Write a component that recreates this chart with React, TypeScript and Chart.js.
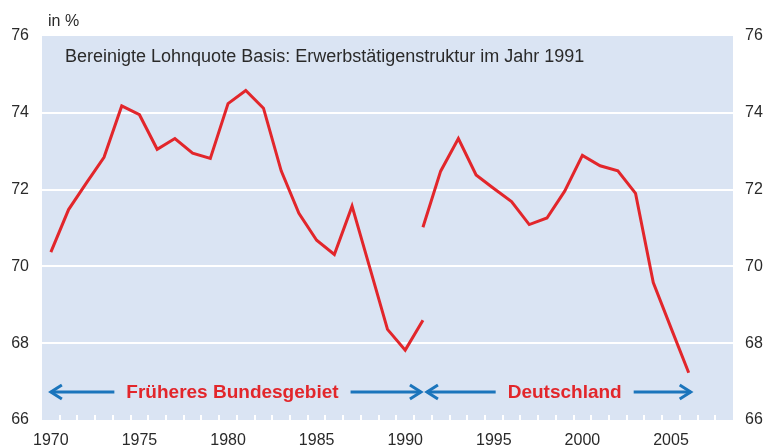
import React, { useEffect, useRef } from "react";
import { Chart, registerables } from "chart.js";
Chart.register(...registerables);

const westYears = [1970, 1971, 1972, 1973, 1974, 1975, 1976, 1977, 1978, 1979, 1980, 1981, 1982, 1983, 1984, 1985, 1986, 1987, 1988, 1989, 1990, 1991];
const westValues = [70.37, 71.48, 72.17, 72.84, 74.18, 73.95, 73.05, 73.33, 72.95, 72.81, 74.24, 74.58, 74.12, 72.49, 71.38, 70.68, 70.31, 71.57, 69.97, 68.36, 67.82, 68.6];
const gerYears = [1991, 1992, 1993, 1994, 1995, 1996, 1997, 1998, 1999, 2000, 2001, 2002, 2003, 2004, 2005, 2006];
const gerValues = [71.02, 72.48, 73.33, 72.38, 72.03, 71.69, 71.09, 71.26, 71.96, 72.89, 72.62, 72.49, 71.9, 69.58, 68.4, 67.23];

const xTickLabels = [1970, 1975, 1980, 1985, 1990, 1995, 2000, 2005];
const yTicks = [66, 68, 70, 72, 74, 76];

const arrowLabels = ["Früheres Bundesgebiet", "Deutschland"];
const arrowFrom = [1970, 1991];
const arrowTo = [1991, 2006];
const arrowLabelAt = [1980.25, 1999];

const titleText = "in %";
const subtitleText = "Bereinigte Lohnquote Basis: Erwerbstätigenstruktur im Jahr 1991";

const FONT = "'Liberation Sans', Arial, Helvetica, sans-serif";
const BG = "#dae4f3";
const RED = "#e2262b";
const BLUE = "#1b75bc";
const TEXT = "#2a2a2a";

const bgPlugin = {
  id: "bgPlugin",
  beforeDraw(chart: any) {
    const { ctx, chartArea } = chart;
    ctx.save();
    ctx.fillStyle = BG;
    ctx.fillRect(chartArea.left, chartArea.top, chartArea.right - chartArea.left, chartArea.bottom - chartArea.top);
    ctx.restore();
  },
};

const overlayPlugin = {
  id: "overlayPlugin",
  afterDatasetsDraw(chart: any) {
    const { ctx, chartArea, scales } = chart;
    const xs = scales.x;
    ctx.save();
    // minor white ticks at year boundaries
    ctx.strokeStyle = "#ffffff";
    ctx.lineWidth = 2;
    for (let y = 1970; y <= 2007; y++) {
      const px = Math.round(xs.getPixelForValue(y + 0.5));
      ctx.beginPath();
      ctx.moveTo(px, chartArea.bottom);
      ctx.lineTo(px, chartArea.bottom - 5);
      ctx.stroke();
    }
    // arrows with labels
    const ay = chartArea.bottom - 28;
    ctx.font = `bold 19px ${FONT}`;
    ctx.textAlign = "center";
    ctx.textBaseline = "middle";
    for (let i = 0; i < arrowLabels.length; i++) {
      const x1 = xs.getPixelForValue(arrowFrom[i]) + (i === 0 ? -1 : 3);
      const x2 = xs.getPixelForValue(arrowTo[i]) + (i === 0 ? -1 : 3);
      const cx = xs.getPixelForValue(arrowLabelAt[i]);
      const w = ctx.measureText(arrowLabels[i]).width;
      const gap = 12;
      ctx.fillStyle = RED;
      ctx.fillText(arrowLabels[i], cx, ay + 1);
      ctx.strokeStyle = BLUE;
      ctx.lineWidth = 3;
      ctx.lineCap = "butt";
      ctx.lineJoin = "miter";
      ctx.beginPath();
      ctx.moveTo(x1 + 1, ay);
      ctx.lineTo(cx - w / 2 - gap, ay);
      ctx.moveTo(cx + w / 2 + gap, ay);
      ctx.lineTo(x2 - 1, ay);
      ctx.stroke();
      ctx.beginPath();
      ctx.moveTo(x1 + 12, ay - 7);
      ctx.lineTo(x1 + 1, ay);
      ctx.lineTo(x1 + 12, ay + 7);
      ctx.moveTo(x2 - 12, ay - 7);
      ctx.lineTo(x2 - 1, ay);
      ctx.lineTo(x2 - 12, ay + 7);
      ctx.stroke();
    }
    ctx.restore();
  },
  afterDraw(chart: any) {
    const { ctx, chartArea } = chart;
    ctx.save();
    ctx.fillStyle = TEXT;
    ctx.textAlign = "left";
    ctx.textBaseline = "middle";
    ctx.font = `16px ${FONT}`;
    ctx.fillText(titleText, 48, 22);
    ctx.font = `18px ${FONT}`;
    ctx.fillText(subtitleText, chartArea.left + 23, 57);
    ctx.restore();
  },
};

export default function App() {
  const ref = useRef<HTMLCanvasElement | null>(null);
  useEffect(() => {
    if (!ref.current) return;
    const chart = new Chart(ref.current, {
      type: "line",
      data: {
        datasets: [
          {
            label: "Früheres Bundesgebiet",
            data: westYears.map((y, i) => ({ x: y, y: westValues[i] })),
            borderColor: RED,
            borderWidth: 3,
            pointRadius: 0,
            tension: 0,
            borderJoinStyle: "miter",
            yAxisID: "y",
          },
          {
            label: "Deutschland",
            data: gerYears.map((y, i) => ({ x: y, y: gerValues[i] })),
            borderColor: RED,
            borderWidth: 3,
            pointRadius: 0,
            tension: 0,
            borderJoinStyle: "miter",
            yAxisID: "y",
          },
        ],
      },
      options: {
        responsive: false,
        animation: false,
        layout: { padding: { top: 36, left: 0, right: 0, bottom: 0 } },
        plugins: { legend: { display: false }, tooltip: { enabled: false } },
        scales: {
          x: {
            type: "linear",
            min: 1969.5,
            max: 2008.5,
            afterBuildTicks: (scale: any) => {
              scale.ticks = xTickLabels.map((v) => ({ value: v }));
            },
            afterFit: (scale: any) => {
              scale.height = 26;
            },
            grid: { display: false, drawTicks: false },
            border: { display: false },
            ticks: {
              font: { family: FONT, size: 16 },
              color: TEXT,
              padding: 11,
              maxRotation: 0,
              autoSkip: false,
              callback: (v: any) => String(v),
            },
          },
          y: {
            type: "linear",
            position: "left",
            min: 66,
            max: 76,
            afterBuildTicks: (scale: any) => {
              scale.ticks = yTicks.map((v) => ({ value: v }));
            },
            afterFit: (scale: any) => {
              scale.width = 42;
            },
            grid: {
              color: (c: any) => (c.tick && (c.tick.value === 66 || c.tick.value === 76) ? "rgba(0,0,0,0)" : "#ffffff"),
              lineWidth: 2,
              drawTicks: false,
            },
            border: { display: false },
            ticks: { font: { family: FONT, size: 16 }, color: TEXT, padding: 13 },
          },
          y2: {
            type: "linear",
            position: "right",
            min: 66,
            max: 76,
            afterBuildTicks: (scale: any) => {
              scale.ticks = yTicks.map((v) => ({ value: v }));
            },
            afterFit: (scale: any) => {
              scale.width = 35;
            },
            grid: { display: false, drawTicks: false },
            border: { display: false },
            ticks: { font: { family: FONT, size: 16 }, color: TEXT, padding: 12 },
          },
        },
      },
      plugins: [bgPlugin, overlayPlugin],
    } as any);
    return () => chart.destroy();
  }, []);
  return (
    <div style={{ position: "fixed", left: 0, top: 0, width: 768, height: 446, background: "#fff" }}>
      <canvas ref={ref} width={768} height={446} style={{ display: "block" }} />
    </div>
  );
}
